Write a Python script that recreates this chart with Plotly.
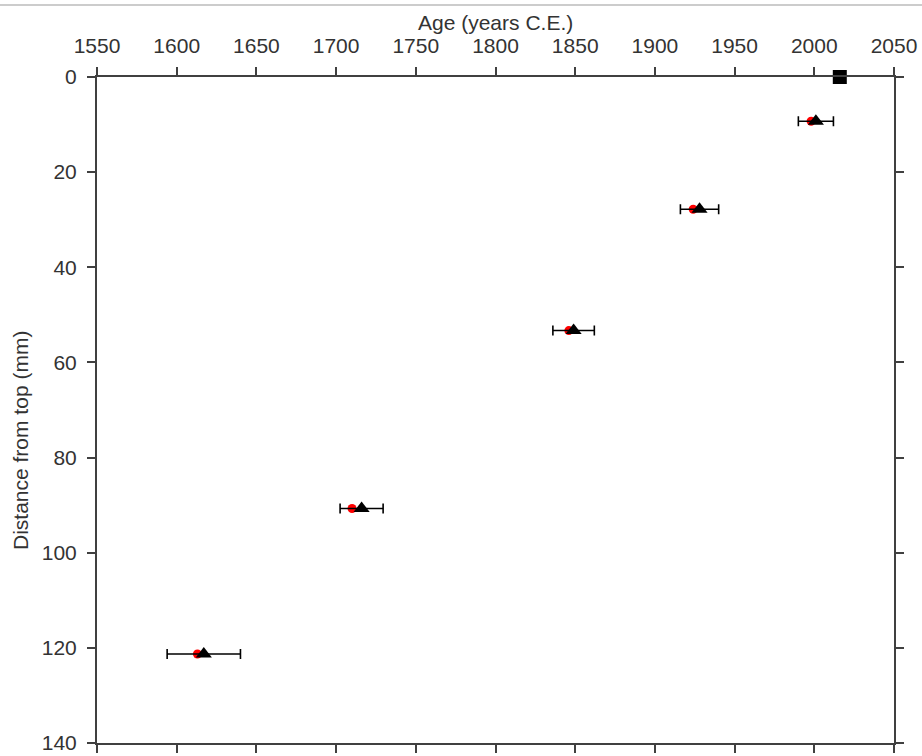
import plotly.graph_objects as go

# Data
depth_mm = [9.3, 27.8, 53.3, 90.7, 121.3]
age_tri = [2001, 1928, 1849, 1716, 1617]
age_err = [11, 12, 13, 13.5, 23]
age_red = [1998, 1924, 1846, 1710, 1613]
top_age = [2016]
top_depth = [0]

x_ticks = [1550, 1600, 1650, 1700, 1750, 1800, 1850, 1900, 1950, 2000, 2050]
y_ticks = [0, 20, 40, 60, 80, 100, 120, 140]

FONT = "Liberation Sans, Arial, sans-serif"
AX = "#404040"
TXT = "#333333"

fig = go.Figure()

fig.add_trace(go.Scatter(
    x=age_red, y=depth_mm, mode="markers",
    marker=dict(symbol="circle", size=9, color="#ff0000"),
    showlegend=False))

fig.add_trace(go.Scatter(
    x=age_tri, y=depth_mm, mode="markers",
    marker=dict(symbol="triangle-up", size=14, color="black"),
    error_x=dict(type="data", array=age_err, visible=True,
                 color="black", thickness=1.6, width=5),
    showlegend=False))

fig.add_trace(go.Scatter(
    x=top_age, y=top_depth, mode="markers",
    marker=dict(symbol="square", size=14, color="black"),
    showlegend=False, cliponaxis=False))

axis_common = dict(showgrid=False, zeroline=False, showline=True,
                   linecolor=AX, linewidth=2, ticks="outside",
                   tickcolor=AX, tickwidth=2, ticklen=8, automargin=False,
                   tickfont=dict(family=FONT, size=21, color=TXT))

fig.update_layout(
    width=922, height=756,
    paper_bgcolor="white", plot_bgcolor="white",
    margin=dict(l=97, r=28, t=77, b=13, autoexpand=False),
    xaxis=dict(range=[1550, 2050], side="top", tickvals=x_ticks,
               ticklabelstandoff=6, **axis_common),
    xaxis2=dict(range=[1550, 2050], side="bottom", overlaying="x",
                tickvals=x_ticks, showticklabels=False, **axis_common),
    yaxis=dict(range=[140, 0], tickvals=y_ticks, ticklabelstandoff=6,
               **axis_common),
    yaxis2=dict(range=[140, 0], side="right", overlaying="y",
                tickvals=y_ticks, showticklabels=False, **axis_common),
    annotations=[
        dict(text="Age (years C.E.)", xref="paper", yref="paper",
             x=0.5, y=1 + (77 - 22) / 666, xanchor="center", yanchor="middle",
             showarrow=False, font=dict(family=FONT, size=21, color=TXT)),
        dict(text="Distance from top (mm)", xref="paper", yref="paper",
             x=-(97 - 20) / 797, y=1 - (441 - 77) / 666, textangle=-90,
             xanchor="center", yanchor="middle",
             showarrow=False, font=dict(family=FONT, size=21, color=TXT)),
    ],
    shapes=[dict(type="line", xref="paper", yref="paper",
                 x0=-97 / 797, x1=1 + 28 / 797,
                 y0=1 + (77 - 5) / 666, y1=1 + (77 - 5) / 666,
                 line=dict(color="#cccccc", width=2))],
)

# invisible trace to activate secondary axes
fig.add_trace(go.Scatter(x=[None], y=[None], xaxis="x2", yaxis="y2",
                         showlegend=False, hoverinfo="skip"))

fig.write_html("out.html", config={"displayModeBar": False},
               post_script="document.body.style.margin='0';document.body.style.padding='0';")
